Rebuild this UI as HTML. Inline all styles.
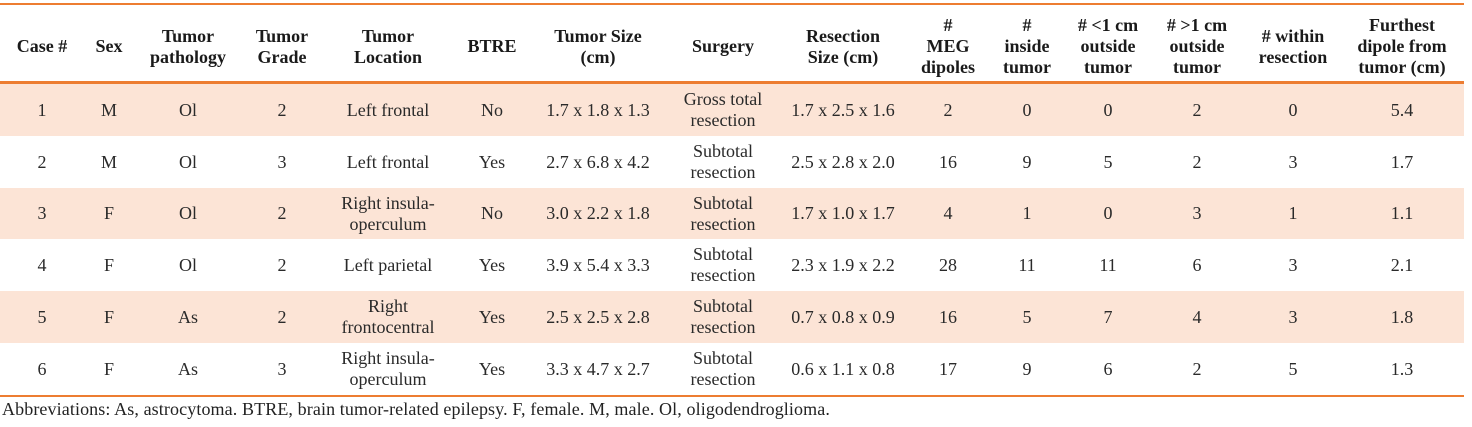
<!DOCTYPE html>
<html>
<head>
<meta charset="utf-8">
<style>
html,body{margin:0;padding:0;background:#fff;}
body{width:1472px;height:427px;position:relative;overflow:hidden;font-family:"Liberation Serif","Times New Roman",serif;font-size:18px;color:#2a2a2a;}
.line{position:absolute;left:0;width:1464px;background:#ED7D31;}
.row{position:absolute;left:0;width:1464px;}
.pink{background:#FCE4D6;}
.c{position:absolute;top:0;height:100%;width:140px;display:flex;align-items:center;justify-content:center;text-align:center;line-height:21px;white-space:nowrap;}
.h .c{font-weight:bold;color:#1a1a1a;}
.foot{position:absolute;left:2px;top:399px;line-height:21px;white-space:nowrap;color:#222;letter-spacing:0.11px;}
</style>
</head>
<body>
<div class="line" style="top:3px;height:2px;"></div>

<div class="row h" style="top:5px;height:83px;">
 <div class="c" style="left:-28px">Case #</div>
 <div class="c" style="left:39px">Sex</div>
 <div class="c" style="left:118px">Tumor<br>pathology</div>
 <div class="c" style="left:212px">Tumor<br>Grade</div>
 <div class="c" style="left:318px">Tumor<br>Location</div>
 <div class="c" style="left:422px">BTRE</div>
 <div class="c" style="left:528px">Tumor Size<br>(cm)</div>
 <div class="c" style="left:653px">Surgery</div>
 <div class="c" style="left:773px">Resection<br>Size (cm)</div>
 <div class="c" style="left:878px">#<br>MEG<br>dipoles</div>
 <div class="c" style="left:957px">#<br>inside<br>tumor</div>
 <div class="c" style="left:1038px"># &lt;1 cm<br>outside<br>tumor</div>
 <div class="c" style="left:1127px"># &gt;1 cm<br>outside<br>tumor</div>
 <div class="c" style="left:1223px"># within<br>resection</div>
 <div class="c" style="left:1332px">Furthest<br>dipole from<br>tumor (cm)</div>
</div>

<div class="line" style="top:81px;height:3px;"></div>

<div class="row pink" style="top:84px;height:52px;">
 <div class="c" style="left:-28px">1</div>
 <div class="c" style="left:39px">M</div>
 <div class="c" style="left:118px">Ol</div>
 <div class="c" style="left:212px">2</div>
 <div class="c" style="left:318px">Left frontal</div>
 <div class="c" style="left:422px">No</div>
 <div class="c" style="left:528px">1.7 x 1.8 x 1.3</div>
 <div class="c" style="left:653px">Gross total<br>resection</div>
 <div class="c" style="left:773px">1.7 x 2.5 x 1.6</div>
 <div class="c" style="left:878px">2</div>
 <div class="c" style="left:957px">0</div>
 <div class="c" style="left:1038px">0</div>
 <div class="c" style="left:1127px">2</div>
 <div class="c" style="left:1223px">0</div>
 <div class="c" style="left:1332px">5.4</div>
</div>

<div class="row" style="top:136px;height:52px;">
 <div class="c" style="left:-28px">2</div>
 <div class="c" style="left:39px">M</div>
 <div class="c" style="left:118px">Ol</div>
 <div class="c" style="left:212px">3</div>
 <div class="c" style="left:318px">Left frontal</div>
 <div class="c" style="left:422px">Yes</div>
 <div class="c" style="left:528px">2.7 x 6.8 x 4.2</div>
 <div class="c" style="left:653px">Subtotal<br>resection</div>
 <div class="c" style="left:773px">2.5 x 2.8 x 2.0</div>
 <div class="c" style="left:878px">16</div>
 <div class="c" style="left:957px">9</div>
 <div class="c" style="left:1038px">5</div>
 <div class="c" style="left:1127px">2</div>
 <div class="c" style="left:1223px">3</div>
 <div class="c" style="left:1332px">1.7</div>
</div>

<div class="row pink" style="top:188px;height:51px;">
 <div class="c" style="left:-28px">3</div>
 <div class="c" style="left:39px">F</div>
 <div class="c" style="left:118px">Ol</div>
 <div class="c" style="left:212px">2</div>
 <div class="c" style="left:318px">Right insula-<br>operculum</div>
 <div class="c" style="left:422px">No</div>
 <div class="c" style="left:528px">3.0 x 2.2 x 1.8</div>
 <div class="c" style="left:653px">Subtotal<br>resection</div>
 <div class="c" style="left:773px">1.7 x 1.0 x 1.7</div>
 <div class="c" style="left:878px">4</div>
 <div class="c" style="left:957px">1</div>
 <div class="c" style="left:1038px">0</div>
 <div class="c" style="left:1127px">3</div>
 <div class="c" style="left:1223px">1</div>
 <div class="c" style="left:1332px">1.1</div>
</div>

<div class="row" style="top:239px;height:52px;">
 <div class="c" style="left:-28px">4</div>
 <div class="c" style="left:39px">F</div>
 <div class="c" style="left:118px">Ol</div>
 <div class="c" style="left:212px">2</div>
 <div class="c" style="left:318px">Left parietal</div>
 <div class="c" style="left:422px">Yes</div>
 <div class="c" style="left:528px">3.9 x 5.4 x 3.3</div>
 <div class="c" style="left:653px">Subtotal<br>resection</div>
 <div class="c" style="left:773px">2.3 x 1.9 x 2.2</div>
 <div class="c" style="left:878px">28</div>
 <div class="c" style="left:957px">11</div>
 <div class="c" style="left:1038px">11</div>
 <div class="c" style="left:1127px">6</div>
 <div class="c" style="left:1223px">3</div>
 <div class="c" style="left:1332px">2.1</div>
</div>

<div class="row pink" style="top:291px;height:52px;">
 <div class="c" style="left:-28px">5</div>
 <div class="c" style="left:39px">F</div>
 <div class="c" style="left:118px">As</div>
 <div class="c" style="left:212px">2</div>
 <div class="c" style="left:318px">Right<br>frontocentral</div>
 <div class="c" style="left:422px">Yes</div>
 <div class="c" style="left:528px">2.5 x 2.5 x 2.8</div>
 <div class="c" style="left:653px">Subtotal<br>resection</div>
 <div class="c" style="left:773px">0.7 x 0.8 x 0.9</div>
 <div class="c" style="left:878px">16</div>
 <div class="c" style="left:957px">5</div>
 <div class="c" style="left:1038px">7</div>
 <div class="c" style="left:1127px">4</div>
 <div class="c" style="left:1223px">3</div>
 <div class="c" style="left:1332px">1.8</div>
</div>

<div class="row" style="top:343px;height:52px;">
 <div class="c" style="left:-28px">6</div>
 <div class="c" style="left:39px">F</div>
 <div class="c" style="left:118px">As</div>
 <div class="c" style="left:212px">3</div>
 <div class="c" style="left:318px">Right insula-<br>operculum</div>
 <div class="c" style="left:422px">Yes</div>
 <div class="c" style="left:528px">3.3 x 4.7 x 2.7</div>
 <div class="c" style="left:653px">Subtotal<br>resection</div>
 <div class="c" style="left:773px">0.6 x 1.1 x 0.8</div>
 <div class="c" style="left:878px">17</div>
 <div class="c" style="left:957px">9</div>
 <div class="c" style="left:1038px">6</div>
 <div class="c" style="left:1127px">2</div>
 <div class="c" style="left:1223px">5</div>
 <div class="c" style="left:1332px">1.3</div>
</div>

<div class="line" style="top:395px;height:2px;"></div>

<div class="foot">Abbreviations: As, astrocytoma. BTRE, brain tumor-related epilepsy. F, female. M, male. Ol, oligodendroglioma.</div>
</body>
</html>
